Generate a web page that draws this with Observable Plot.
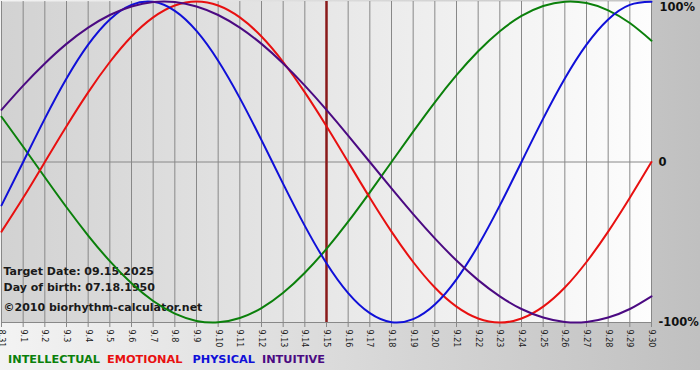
<!DOCTYPE html>
<html>
<head>
<meta charset="utf-8">
<script src="https://cdn.jsdelivr.net/npm/d3@7"></script>
<script src="https://cdn.jsdelivr.net/npm/@observablehq/plot@0.6"></script>
<style>
  html, body { margin: 0; padding: 0; background: #fff; }
  #wrap { width: 700px; height: 370px; background: linear-gradient(to right, #f3f3f3, #c0c0c0); overflow: hidden; }
  #legend { height: 22px; padding: 4px 0 0 8px; box-sizing: border-box; font: bold 11.3px "DejaVu Sans", Verdana, sans-serif; line-height: 16px; white-space: nowrap; }
  #legend span { margin-right: 7px; }
  #legend span:nth-child(2) { margin-right: 10px; }
</style>
</head>
<body>
<div id="wrap">
  <div id="chart"></div>
  <div id="legend"></div>
</div>
<script>
// ---- data ----
const days = ["8.31","9.1","9.2","9.3","9.4","9.5","9.6","9.7","9.8","9.9","9.10","9.11","9.12","9.13","9.14","9.15","9.16","9.17","9.18","9.19","9.20","9.21","9.22","9.23","9.24","9.25","9.26","9.27","9.28","9.29","9.30"];
const intellectual = [0.282,0.095,-0.095,-0.282,-0.458,-0.618,-0.756,-0.866,-0.945,-0.990,-0.999,-0.972,-0.910,-0.815,-0.690,-0.541,-0.372,-0.189,0.000,0.189,0.372,0.541,0.690,0.815,0.910,0.972,0.999,0.990,0.945,0.866,0.756];
const emotional = [-0.434,-0.223,0.000,0.223,0.434,0.623,0.782,0.901,0.975,1.000,0.975,0.901,0.782,0.623,0.434,0.223,0.000,-0.223,-0.434,-0.623,-0.782,-0.901,-0.975,-1.000,-0.975,-0.901,-0.782,-0.623,-0.434,-0.223,0.000];
const physical = [-0.270,0.000,0.270,0.520,0.731,0.888,0.979,0.998,0.942,0.817,0.631,0.398,0.136,-0.136,-0.398,-0.631,-0.817,-0.942,-0.998,-0.979,-0.888,-0.731,-0.520,-0.270,0.000,0.270,0.520,0.731,0.888,0.979,0.998];
const intuitive = [0.325,0.476,0.614,0.736,0.837,0.916,0.969,0.997,0.997,0.969,0.916,0.837,0.736,0.614,0.476,0.325,0.165,0.000,-0.165,-0.325,-0.476,-0.614,-0.736,-0.837,-0.916,-0.969,-0.997,-0.997,-0.969,-0.916,-0.837];
const seriesNames = ["INTELLECTUAL","EMOTIONAL","PHYSICAL","INTUITIVE"];
const seriesValues = [intellectual, emotional, physical, intuitive];
const seriesColors = ["#0b800b","#e81010","#1010d8","#4b0a82"];
const targetDay = "9.15";
const yTickValues = [1, 0, -1];
const yTickLabels = ["100%", "0", "-100%"];
const infoLines = ["Target Date: 09.15.2025", "Day of birth: 07.18.1950", "©2010 biorhythm-calculator.net"];

// ---- build table ----
const rows = [];
seriesNames.forEach((name, s) => {
  seriesValues[s].forEach((v, i) => rows.push({series: name, day: days[i], value: v}));
});

const tickLabel = v => yTickLabels[yTickValues.indexOf(v)];
const font = '"DejaVu Sans", Verdana, sans-serif';
const infoStyle = {frameAnchor: "bottom-left", lineAnchor: "middle", textAnchor: "start", dx: 2, fontSize: 11, fontWeight: "bold", fill: "#1a1a1a"};

const svg = Plot.plot({
  width: 700,
  height: 348,
  marginLeft: 1,
  marginRight: 49,
  marginTop: 1,
  marginBottom: 26,
  style: {background: "transparent", fontFamily: font, color: "#222"},
  x: {type: "point", domain: days, padding: 0, round: false, label: null},
  y: {domain: [-1, 1], label: null},
  color: {domain: seriesNames, range: seriesColors},
  marks: [
    Plot.frame({fill: "url(#plotbg)", stroke: null}),
    Plot.ruleX(days, {x: d => d, stroke: "#888", strokeWidth: 1, strokeOpacity: 1}),
    Plot.ruleY([0], {stroke: "#888", strokeWidth: 1}),
    Plot.ruleY([-1], {stroke: "#888", strokeWidth: 1}),
    Plot.axisX({anchor: "bottom", tickRotate: 90, tickSize: 5, tickPadding: 2, fontSize: 8, stroke: "#888", fill: "#222", label: null}),
    Plot.axisY({anchor: "right", ticks: [0, -1], tickFormat: tickLabel, tickSize: 0, tickPadding: 7, fontSize: 11.5, fontWeight: "bold", fill: "#111", label: null}),
    Plot.axisY({anchor: "right", ticks: [1], tickFormat: tickLabel, tickSize: 0, tickPadding: 8, dy: 6, fontSize: 11.5, fontWeight: "bold", fill: "#111", label: null}),
    Plot.text([infoLines[0]], {...infoStyle, text: d => d, dy: -51}),
    Plot.text([infoLines[1]], {...infoStyle, text: d => d, dy: -35}),
    Plot.text([infoLines[2]], {...infoStyle, text: d => d, dy: -15}),
    Plot.ruleX([targetDay], {x: d => d, stroke: "#8a1a1a", strokeWidth: 2.5}),
    Plot.line(rows, {x: "day", y: "value", z: "series", stroke: "series", strokeWidth: 2, curve: "natural"})
  ]
});

d3.select(svg).insert("defs", ":first-child").html(
  '<linearGradient id="plotbg" x1="0" x2="1" y1="0" y2="0">' +
  '<stop offset="0" stop-color="#d2d2d2"/><stop offset="1" stop-color="#fdfdfd"/></linearGradient>'
);

document.getElementById("chart").appendChild(svg);

const legend = d3.select("#legend");
seriesNames.forEach((name, i) => {
  legend.append("span").style("color", seriesColors[i]).text(name);
});
</script>
</body>
</html>
